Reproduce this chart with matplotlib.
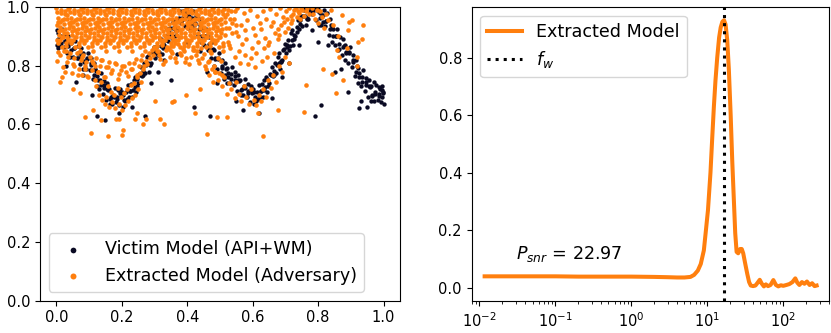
import matplotlib
matplotlib.use("Agg")
import matplotlib.pyplot as plt

# ---------------- Left panel data: victim model (API+WM) ----------------
victim_x_a = [.001,.006,.003,.014,.010,.018,.022,.027,.025,.036,.032,.039,
    .041,.046,.043,.054,.050,.058,.062,.067,.065,.076,.072,.079,
    .081,.086,.083,.094,.090,.098,.102,.107,.105,.116,.112,.119,
    .121,.126,.123,.134,.130,.138,.142,.147,.145,.156,.152,.159,
    .161,.166,.163,.174,.170,.178,.182,.187,.185,.196,.192,.199,
    .201,.206,.203,.214,.210,.218,.222,.227,.225,.236,.232,.239,
    .241,.246,.243,.254,.250,.258,.262,.267,.265,.276,.272,.279,
    .281,.286,.283,.294,.290,.298,.302,.307,.305,.316,.312,.319,
    .321,.326,.323,.334,.330,.338,.342,.347,.345,.356,.352,.359,
    .361,.366,.363,.374,.370,.378,.382,.387,.385,.396,.392,.399,
    .401,.406,.403,.414,.410,.418,.422,.427,.425,.436,.432,.439,
    .441,.446,.443,.454,.450,.458,.462,.467,.465,.476,.472,.479,
    .481,.486,.483,.494,.490,.498,.502,.507,.505,.516,.512,.519,
    .521,.526,.523,.534,.530,.538,.542,.547,.545,.556,.552,.559,
    .561,.566,.563,.574,.570,.578,.582,.587,.585,.596,.592,.599,
    .601,.606,.603,.614,.610,.618,.622,.627,.625,.636,.632,.639,
    .641,.646,.643,.654,.650,.658,.662,.667,.665,.676,.672,.679,
    .681,.686,.683,.694,.690,.698,.702,.707,.705,.716,.712,.719,
    .721,.726,.723,.734,.730,.738,.742,.747,.745,.756,.752,.759,
    .761,.766,.763,.774,.770,.778,.782,.787,.785,.796,.792,.799,
    .801,.806,.803,.814,.810,.818,.822,.827,.825,.836,.832,.839,
    .841,.846,.843,.854,.850,.858,.862,.867,.865,.876,.872,.879,
    .881,.886,.883,.894,.890,.898,.902,.907,.905,.916,.912,.919,
    .921,.926,.923,.934,.930,.938,.942,.947,.945,.956,.952,.959,
    .961,.966,.963,.974,.970,.978,.982,.987,.985,.996,.992,.999,
    .988,.994,1.0]
victim_y_a = [.922,.892,.870,.902,.870,.925,.865,.908,.883,.900,.845,.878,
    .882,.852,.830,.862,.830,.885,.825,.868,.843,.860,.805,.838,
    .842,.812,.790,.822,.790,.845,.785,.828,.803,.810,.755,.788,
    .782,.752,.730,.752,.720,.775,.705,.748,.723,.740,.685,.718,
    .722,.692,.670,.702,.670,.725,.675,.718,.693,.720,.665,.698,
    .712,.682,.660,.712,.680,.735,.695,.738,.713,.750,.695,.728,
    .762,.732,.710,.772,.740,.795,.765,.808,.783,.830,.775,.808,
    .832,.802,.780,.842,.810,.865,.825,.868,.843,.890,.835,.868,
    .892,.862,.840,.902,.870,.925,.885,.928,.903,.950,.895,.928,
    .952,.922,.900,.962,.930,.985,.945,.988,.963,.990,.935,.968,
    .982,.952,.930,.962,.930,.985,.925,.968,.943,.960,.905,.938,
    .932,.902,.880,.902,.870,.925,.855,.898,.873,.880,.825,.858,
    .852,.822,.800,.822,.790,.845,.775,.818,.793,.810,.755,.788,
    .792,.762,.740,.772,.740,.795,.735,.778,.753,.770,.715,.748,
    .752,.722,.700,.732,.700,.755,.695,.738,.713,.730,.675,.708,
    .722,.692,.670,.712,.680,.735,.695,.738,.713,.750,.695,.728,
    .762,.732,.710,.772,.740,.795,.765,.808,.783,.830,.775,.808,
    .842,.812,.790,.852,.820,.875,.845,.888,.863,.910,.855,.888,
    .922,.892,.870,.932,.900,.955,.925,.968,.943,.990,.935,.968,
    .992,.962,.940,.992,.960,.995,.975,.998,.993,.996,.955,.988,
    .992,.962,.940,.972,.940,.990,.935,.978,.953,.960,.905,.938,
    .932,.902,.880,.902,.870,.925,.855,.898,.873,.890,.835,.868,
    .872,.842,.820,.842,.810,.865,.795,.838,.813,.820,.765,.798,
    .792,.762,.740,.762,.730,.785,.715,.758,.733,.750,.695,.728,
    .732,.702,.680,.712,.680,.735,.685,.728,.703,.730,.675,.708,
    .722,.692,.670]
victim_x_b = [.005,.015,.025,.035,.045,.055,.065,.075,.085,.095,
    .105,.115,.125,.135,.145,.155,.165,.175,.185,.195,
    .205,.215,.225,.235,.245,.255,.265,.275,.285,.295,
    .305,.315,.325,.335,.345,.355,.365,.375,.385,.395,
    .405,.415,.425,.435,.445,.455,.465,.475,.485,.495,
    .505,.515,.525,.535,.545,.555,.565,.575,.585,.595,
    .605,.615,.625,.635,.645,.655,.665,.675,.685,.695,
    .705,.715,.725,.735,.745,.755,.765,.775,.785,.795,
    .805,.815,.825,.835,.845,.855,.865,.875,.885,.895,
    .905,.915,.925,.935,.945,.955,.965,.975,.985,.995,.997]
victim_y_b = [.91,.878,.884,.866,.876,.86,.828,.834,.816,.826,
    .81,.768,.764,.736,.736,.72,.688,.694,.686,.706,
    .70,.688,.714,.716,.756,.77,.768,.804,.806,.846,
    .85,.848,.874,.886,.916,.93,.918,.954,.956,.976,
    .97,.938,.944,.926,.926,.90,.858,.854,.826,.826,
    .80,.768,.774,.756,.766,.75,.718,.724,.706,.716,
    .71,.688,.714,.716,.756,.77,.768,.804,.816,.856,
    .87,.868,.904,.916,.956,.97,.958,.984,.986,.996,
    .98,.948,.954,.926,.926,.90,.858,.864,.846,.846,
    .82,.778,.774,.746,.746,.73,.698,.704,.696,.716,.71]
victim_x_out = [.005,.03,.06,.08,.11,.125,.15,.19,.23,.27,.29,.31,.33,.35,.37,.40,
    .42,.44,.46,.47,.49,.55,.57,.62,.66,.69,.71,.74,.78,.79,.80,.83,.85,.87,
    .89,.93,.95,.97,.81,.925]
victim_y_out = [.86,.80,.745,.77,.70,.63,.615,.64,.66,.63,.74,.78,.82,.75,.84,.88,
    .66,.85,.78,.63,.74,.68,.65,.64,.69,.76,.81,.87,.92,.63,.88,.87,.78,.79,
    .71,.68,.66,.745,.666,.655]

# ---------------- Left panel data: extracted model (adversary) ----------------
ext_dense_x = [.000,.006,.003,.008,.004, .014,.011,.018,.012,.017, .027,.023,.025,.020,.029,
    .032,.038,.034,.036,.031, .040,.046,.043,.048,.044, .054,.051,.058,.052,.057,
    .067,.063,.065,.060,.069, .072,.078,.074,.076,.071, .080,.086,.083,.088,.084,
    .094,.091,.098,.092,.097, .107,.103,.105,.100,.109, .112,.118,.114,.116,.111,
    .120,.126,.123,.128,.124, .134,.131,.138,.132,.137, .147,.143,.145,.140,.149,
    .152,.158,.154,.156,.151, .160,.166,.163,.168,.164, .174,.171,.178,.172,.177,
    .187,.183,.185,.180,.189, .192,.198,.194,.196,.191, .200,.206,.203,.208,.204,
    .214,.211,.218,.212,.217, .227,.223,.225,.220,.229, .232,.238,.234,.236,.231,
    .240,.246,.243,.248,.244, .254,.251,.258,.252,.257, .267,.263,.265,.260,.269,
    .272,.278,.274,.276,.271, .280,.286,.283,.288,.284, .294,.291,.298,.292,.297,
    .307,.303,.305,.300,.309, .312,.318,.314,.316,.311, .320,.326,.323,.328,.324,
    .334,.331,.338,.332,.337, .347,.343,.345,.340,.349, .352,.358,.354,.356,.351,
    .360,.366,.363,.368,.364, .374,.371,.378,.372,.377, .387,.383,.385,.380,.389,
    .392,.398,.394,.396,.391, .400,.406,.403,.408,.404, .414,.411,.418,.412,.417,
    .427,.423,.425,.420,.429, .432,.438,.434,.436,.431, .440,.446,.443,.448,.444,
    .454,.451,.458,.452,.457, .467,.463,.465,.460,.469, .472,.478,.474,.476,.471,
    .480,.486,.483,.488,.484, .494,.491,.498,.492,.497, .507,.503,.505,.500,.509]
ext_dense_y = [
    .996,.962,.937,.903,.878, .980,.949,.923,.888,.863, .986,.960,.925,.899,.866, .972,.946,.911,.886,.851,
    .996,.962,.937,.903,.878, .980,.949,.923,.888,.863, .986,.960,.925,.899,.866, .972,.946,.911,.886,.851,
    .996,.962,.937,.903,.878, .980,.949,.923,.888,.863, .986,.960,.925,.899,.866, .972,.946,.911,.886,.851,
    .996,.962,.937,.903,.878, .980,.949,.923,.888,.863, .986,.960,.925,.899,.866, .972,.946,.911,.886,.851,
    .996,.962,.937,.903,.878, .980,.949,.923,.888,.863, .986,.960,.925,.899,.866, .972,.946,.911,.886,.851,
    .996,.962,.937,.903,.878, .980,.949,.923,.888,.863, .986,.960,.925,.899,.866, .972,.946,.911,.886,.851,
    .996,.962,.937,.903,.878, .980,.949,.923,.888,.863, .986,.960,.925,.899,.866, .972,.946,.911,.886,.851,
    .996,.962,.937,.903,.878, .980,.949,.923,.888,.863, .986,.960,.925,.899,.866, .972,.946,.911,.886,.851,
    .996,.962,.937,.903,.878, .980,.949,.923,.888,.863, .986,.960,.925,.899,.866, .972,.946,.911,.886,.851,
    .996,.962,.937,.903,.878, .980,.949,.923,.888,.863, .986,.960,.925,.899,.866, .972,.946,.911,.886,.851,
    .996,.962,.937,.903,.878, .980,.949,.923,.888,.863, .986,.960,.925,.899,.866, .972,.946,.911,.886,.851,
    .996,.962,.937,.903,.878, .980,.949,.923,.888,.863, .986,.960,.925,.899,.866, .972,.946,.911,.886,.851,
    .996,.962,.937,.903,.878, .980,.949,.923,.888,.863, .986,.960,.925,.899,.866]
ext_dense2_x = [.001,.005,.007,.003, .013,.018,.011,.016, .028,.024,.022,.029, .036,.032,.039,.034,
    .041,.045,.047,.043, .053,.058,.051,.056, .068,.064,.062,.069, .076,.072,.079,.074,
    .081,.085,.087,.083, .093,.098,.091,.096, .108,.104,.102,.109, .116,.112,.119,.114,
    .121,.125,.127,.123, .133,.138,.131,.136, .148,.144,.142,.149, .156,.152,.159,.154,
    .161,.165,.167,.163, .173,.178,.171,.176, .188,.184,.182,.189, .196,.192,.199,.194,
    .201,.205,.207,.203, .213,.218,.211,.216, .228,.224,.222,.229, .236,.232,.239,.234,
    .241,.245,.247,.243, .253,.258,.251,.256, .268,.264,.262,.269, .276,.272,.279,.274,
    .281,.285,.287,.283, .293,.298,.291,.296, .308,.304,.302,.309, .316,.312,.319,.314,
    .321,.325,.327,.323, .333,.338,.331,.336, .348,.344,.342,.349, .356,.352,.359,.354,
    .361,.365,.367,.363, .373,.378,.371,.376, .388,.384,.382,.389, .396,.392,.399,.394,
    .401,.405,.407,.403, .413,.418,.411,.416, .428,.424,.422,.429, .436,.432,.439,.434,
    .441,.445,.447,.443, .453,.458,.451,.456, .468,.464,.462,.469, .476,.472,.479,.474,
    .481,.485,.487,.483, .493,.498,.491,.496, .508,.504,.502,.509]
ext_dense2_y = [
    .982,.950,.918,.889, .991,.956,.931,.897, .975,.941,.912,.876, .992,.958,.928,.897,
    .982,.950,.918,.889, .991,.956,.931,.897, .975,.941,.912,.876, .992,.958,.928,.897,
    .982,.950,.918,.889, .991,.956,.931,.897, .975,.941,.912,.876, .992,.958,.928,.897,
    .982,.950,.918,.889, .991,.956,.931,.897, .975,.941,.912,.876, .992,.958,.928,.897,
    .982,.950,.918,.889, .991,.956,.931,.897, .975,.941,.912,.876, .992,.958,.928,.897,
    .982,.950,.918,.889, .991,.956,.931,.897, .975,.941,.912,.876, .992,.958,.928,.897,
    .982,.950,.918,.889, .991,.956,.931,.897, .975,.941,.912,.876, .992,.958,.928,.897,
    .982,.950,.918,.889, .991,.956,.931,.897, .975,.941,.912,.876, .992,.958,.928,.897,
    .982,.950,.918,.889, .991,.956,.931,.897, .975,.941,.912,.876, .992,.958,.928,.897,
    .982,.950,.918,.889, .991,.956,.931,.897, .975,.941,.912,.876, .992,.958,.928,.897,
    .982,.950,.918,.889, .991,.956,.931,.897, .975,.941,.912,.876, .992,.958,.928,.897,
    .982,.950,.918,.889, .991,.956,.931,.897, .975,.941,.912,.876, .992,.958,.928,.897,
    .982,.950,.918,.889, .991,.956,.931,.897, .975,.941,.912,.876]
ext_low_x = [.005,.012,.024,.037,.042,.055,.062,.074,.083,.091,.104,.113,.122,.133,.141,.153,.162,
    .171,.183,.193,.202,.214,.223,.232,.243,.252,.261,.273,.282,.291,.302,.313,.322,.333,.343,
    .352,.362,.373,.381,.393,.402,.413,.421,.433,.442,.452,.463,.472,.482,.493,.503,
    .002,.016,.021,.033,.047,.051,.068,.077,.087,.095,.108,.117,.127,.136,.146,.157,.167,
    .175,.188,.197,.206,.217,.228,.236,.247,.256,.266,.277,.287,.295,.308,.317,.326,.336,.347,
    .357,.366,.377,.386,.397,.406,.417,.426,.437,.446,.456,.467,.477,.486,.497,.507]
ext_low_y = [.848,.838,.851,.830,.845,.825,.842,.818,.836,.812,.830,.808,.826,.800,.820,.795,.812,
    .785,.805,.772,.798,.780,.810,.790,.822,.800,.835,.815,.845,.855,
    .862,.835,.870,.815,.858,.842,.825,.874,.838,.812,.866,.830,.855,.818,.860,.840,.812,.845,.800,.825,.815,
    .815,.760,.795,.812,.775,.805,.788,.770,.798,.765,.784,.752,.778,.744,.762,.730,.712,
    .700,.725,.695,.708,.720,.735,.742,.760,.775,.790,.805,.828,.838,
    .850,.822,.805,.852,.830,.868,.812,.845,.858,.828,.805,.852,.835,.808,.825,.790,.815,.790,.780,.775,.770]
ext_fill_x = [.055,.065,.078,.088,.098,.108,.118,.128,.138,.148,.158,.168,.178,.188,.198,.208,
    .218,.228,.238,.248,.258,.268]
ext_fill_y = [.80,.77,.83,.79,.76,.815,.80,.78,.82,.76,.795,.775,.81,.755,.785,.80,
    .765,.79,.81,.77,.82,.80]
ext_mid_x = [.512,.516,.514,.521,.527,.524,.533,.536,.531,.542,.548,.545,.551,.556,.558,
    .563,.567,.561,.572,.578,.575,.584,.581,.587,.592,.597,.595,.601,.606,.608,
    .613,.617,.611,.622,.626,.628,.632,.637,.635,.641,.648,.644,.653,.656,.651,
    .662,.667,.665,.671,.676,.678,.683,.687,.681,.692,.696,.698,.702,.707,.705,
    .712,.716,.718,.723,.727,.721,.731,.736,.738,.742,.747,.745,.752,.757,.763,.767,.772,.781,
    .515,.525,.530,.538,.545,.550,.518,.528,.508]
ext_mid_y = [.992,.950,.905,.975,.930,.880,.985,.945,.860,.960,.915,.830,.995,.900,.850,
    .940,.875,.810,.980,.920,.835,.955,.890,.805,.990,.860,.825,.930,.905,.795,
    .970,.880,.845,.945,.925,.815,.985,.895,.860,.960,.870,.830,.992,.935,.880,
    .950,.910,.845,.975,.925,.890,.995,.940,.905,.965,.950,.915,.985,.930,.960,
    .998,.945,.970,.975,.990,.955,.995,.965,.985,.980,.997,.960,.990,.970,.985,.998,.975,.995,
    .965,.990,.960,.910,.985,.940,.930,.870,.850]
ext_valley_x = [.455,.468,.478,.485,.495,.505,.512,.520,.528,.535,.545,.550,.558,.565,.572,
    .580,.588,.595,.603,.610,.618,.625,.632,.640,.648,.655,.663,.672,.680,.690,.700,.710,
    .12,.13,.14,.15,.16,.17,.18,.19,.20,.21,.22,.23,.24,.25,.26]
ext_valley_y = [.80,.77,.745,.78,.75,.73,.76,.705,.74,.72,.69,.745,.705,.68,.73,
    .695,.67,.72,.685,.665,.70,.68,.72,.695,.75,.725,.77,.745,.80,.78,.83,.81,
    .73,.70,.685,.67,.66,.675,.655,.67,.65,.665,.68,.69,.70,.72,.745]
ext_right_x = [.785,.790,.795,.800,.805,.812,.818,.825,.830,.838,.845,.815,.842,.857,.855,
    .872,.877,.890,.903,.918,.918,.935,.938,.763,.757,.860,.865,.923,.888,.895]
ext_right_y = [.975,.960,.990,.945,.985,.965,.930,.975,.955,.990,.940,.790,.772,.853,.707,
    .973,.750,.920,.956,.800,.830,.890,.940,.734,.644,.900,.830,.882,.860,.950]
ext_out_x = [.010,.107,.157,.200,.203,.087,.111,.138,.181,.190,.245,.240,.273,.265,.316,.328,
    .352,.423,.460,.490,.360,.071,.153,.632,.522,.617,.678,.052,.025,.395,.44,.30]
ext_out_y = [.745,.570,.560,.565,.580,.626,.650,.615,.618,.617,.640,.620,.620,.600,.620,.600,
    .678,.640,.568,.627,.680,.706,.695,.561,.624,.640,.649,.72,.78,.70,.72,.68]

# ---------------- Right panel data: spectrum ----------------
freq = [0.0117, 0.02, 0.05, 0.1, 0.2, 0.5, 1, 2, 3, 4, 5, 6, 6.7, 7.5, 8.2, 9, 9.5, 10.2,
        11, 11.6, 12.2, 12.8, 13.5, 14.3, 15.0, 15.8, 16.6, 17.4, 18.3, 19.2, 20.3, 21.3,
        22.4, 23.3, 24.3, 25.5, 27, 28.4, 29.7, 31.5, 33.6, 35.5, 37.3, 40, 43, 46, 49, 52,
        55.6, 59, 63, 68, 74, 80, 86, 93, 100, 110, 120, 132, 144, 153, 163, 176, 190, 205,
        222, 240, 258, 275]
power = [0.040, 0.040, 0.040, 0.040, 0.039, 0.039, 0.039, 0.038, 0.037, 0.036, 0.036, 0.038,
         0.045, 0.06, 0.083, 0.13, 0.19, 0.27, 0.40, 0.52, 0.63, 0.72, 0.80, 0.87, 0.905,
         0.925, 0.93, 0.915, 0.86, 0.76, 0.60, 0.44, 0.30, 0.19, 0.125, 0.12, 0.135, 0.135,
         0.12, 0.085, 0.048, 0.02, 0.008, 0.006, 0.008, 0.018, 0.028, 0.015, 0.005, 0.012,
         0.006, 0.01, 0.027, 0.01, 0.005, 0.009, 0.007, 0.01, 0.013, 0.02, 0.033, 0.018,
         0.01, 0.02, 0.014, 0.022, 0.01, 0.016, 0.006, 0.008]
f_w = 16.5
p_snr = 22.97

ORANGE = '#ff7f0e'
DARK = '#0a0a23'

fig = plt.figure(figsize=(8.31, 3.33), dpi=100)
ax1 = fig.add_axes([0.0481, 0.097, 0.4332, 0.882])
ax2 = fig.add_axes([0.5676, 0.095, 0.4300, 0.884])

vx = victim_x_a + victim_x_b + victim_x_out
vy = victim_y_a + victim_y_b + victim_y_out
ex = (ext_dense_x + ext_dense2_x + ext_low_x + ext_fill_x + ext_mid_x + ext_valley_x
      + ext_right_x + ext_out_x)
ey = (ext_dense_y + ext_dense2_y + ext_low_y + ext_fill_y + ext_mid_y + ext_valley_y
      + ext_right_y + ext_out_y)

ax1.scatter(vx, vy, s=10, color=DARK, linewidths=0, label='Victim Model (API+WM)')
ax1.scatter(ex, ey, s=11, color=ORANGE, linewidths=0, label='Extracted Model (Adversary)')
ax1.set_xlim(-0.05, 1.05)
ax1.set_ylim(0, 1.0)
ax1.set_xticks([0.0, 0.2, 0.4, 0.6, 0.8, 1.0])
ax1.set_yticks([0.0, 0.2, 0.4, 0.6, 0.8, 1.0])
ax1.tick_params(labelsize=10.5)
ax1.legend(loc='lower left', fontsize=12.6, markerscale=1.3)

ax2.plot(freq, power, color=ORANGE, lw=2.9, label='Extracted Model')
ax2.axvline(f_w, color='k', ls=':', lw=2.2, label='$f_w$')
ax2.set_xscale('log')
ax2.set_xlim(0.0079, 400)
ax2.set_ylim(-0.047, 0.976)
ax2.set_yticks([0.0, 0.2, 0.4, 0.6, 0.8])
ax2.tick_params(labelsize=10.5)
ax2.text(0.03, 0.1, r'$P_{snr}$ = %.2f' % p_snr, fontsize=12.6)
ax2.legend(loc='upper left', fontsize=12.6)

fig.savefig('out.png', dpi=100)
